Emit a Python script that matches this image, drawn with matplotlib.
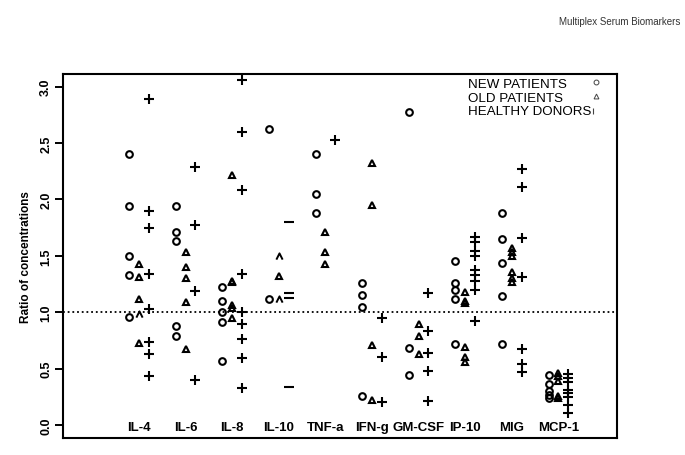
import matplotlib
matplotlib.use("Agg")
import matplotlib.pyplot as plt
from matplotlib.path import Path

# values
cytokines = ['IL-4', 'IL-6', 'IL-8', 'IL-10', 'TNF-a', 'IFN-g', 'GM-CSF', 'IP-10', 'MIG', 'MCP-1']

new_patients = [
    [2.40, 1.94, 1.50, 1.33, 0.954],
    [1.94, 1.715, 1.63, 0.88, 0.79],
    [1.225, 1.10, 1.00, 0.91, 0.57],
    [2.62, 1.12],
    [2.40, 2.05, 1.88],
    [1.26, 1.15, 1.05, 0.26],
    [2.775, 0.68, 0.443],
    [1.455, 1.26, 1.20, 1.115, 0.72],
    [1.88, 1.65, 1.44, 1.145, 0.72],
    [0.445, 0.365, 0.30, 0.27, 0.24],
]

old_patients = [
    [1.43, 1.31, 1.12, 0.73],
    [1.53, 1.40, 1.30, 1.09, 0.67],
    [2.22, 1.28, 1.27, 1.06, 1.04, 0.945],
    [1.32],
    [1.71, 1.53, 1.43],
    [2.32, 1.95, 0.71, 0.224],
    [0.895, 0.785, 0.63],
    [1.18, 1.10, 1.08, 0.695, 0.60, 0.555],
    [1.57, 1.53, 1.50, 1.36, 1.30, 1.27],
    [0.46, 0.43, 0.39, 0.255, 0.235],
]

# old patient points that only show as a bare "^"
old_open = {0: [0.98], 3: [1.50, 1.12]}

healthy_donors = [
    [2.89, 1.90, 1.75, 1.34, 1.03, 0.74, 0.63, 0.43],
    [2.29, 1.77, 1.19, 0.40],
    [3.06, 2.60, 2.08, 1.34, 1.00, 0.895, 0.76, 0.59, 0.33],
    [1.80, 1.17, 1.13, 0.34],
    [2.53],
    [0.945, 0.60, 0.20],
    [1.17, 0.835, 0.64, 0.475, 0.21],
    [1.67, 1.62, 1.54, 1.50, 1.37, 1.33, 1.28, 1.20, 0.92],
    [2.27, 2.11, 1.66, 1.31, 0.67, 0.54, 0.47],
    [0.45, 0.42, 0.38, 0.31, 0.28, 0.25, 0.18, 0.11],
]

yticks = [0.0, 0.5, 1.0, 1.5, 2.0, 2.5, 3.0]

plt.rcParams['font.family'] = ['Liberation Sans', 'DejaVu Sans']

fig = plt.figure(figsize=(6.85, 4.56), dpi=100)
ax = fig.add_axes([0.092, 0.0373, 0.809, 0.798])

caret = Path([(-1, -1), (0, 1), (1, -1)], [Path.MOVETO, Path.LINETO, Path.LINETO])
off = 0.21

for i, name in enumerate(cytokines):
    k = i + 1
    ax.plot([k - off] * len(new_patients[i]), new_patients[i], 'o', ms=4.8,
            mfc='none', mec='black', mew=1.5)
    ax.plot([k] * len(old_patients[i]), old_patients[i], '^', ms=5.0,
            mfc='none', mec='black', mew=1.5)
    if i in old_open:
        ax.plot([k] * len(old_open[i]), old_open[i], marker=caret, ls='none',
                ms=4.5, mfc='none', mec='black', mew=1.4)
    mk = '_' if name == 'IL-10' else '+'
    ax.plot([k + off] * len(healthy_donors[i]), healthy_donors[i], mk, ms=6.5,
            color='black', mew=1.5)
    ax.text(k, -0.018, name, ha='center', va='center', fontsize=9.5,
            fontweight='bold')

ax.axhline(1.0, color='black', ls=(0, (1, 1.6)), lw=1.3)

ax.set_xlim(-0.631, 11.26)
ax.set_ylim(-0.115, 3.11)
ax.set_xticks([])
ax.set_yticks(yticks)
ax.set_yticklabels(['%.1f' % t for t in yticks], rotation=90, va='center',
                   fontweight='bold', fontsize=9)
ax.tick_params(axis='y', length=5.8, width=1.4, pad=2)
for s in ax.spines.values():
    s.set_linewidth(1.5)

ax.set_ylabel('Ratio of concentrations', fontsize=8.5, fontweight='bold',
              labelpad=6)

# legend drawn as plain text with small symbols
leg = ['NEW PATIENTS', 'OLD PATIENTS', 'HEALTHY DONORS']
leg_y = [0.972, 0.934, 0.898]
for lbl, yy in zip(leg, leg_y):
    ax.text(0.731, yy, lbl, transform=ax.transAxes, ha='left', va='center',
            fontsize=9.6)
ax.plot([0.962], [leg_y[0] + 0.005], 'o', ms=3.5, mfc='none', mec='#444444',
        mew=0.7, transform=ax.transAxes, clip_on=False)
ax.plot([0.962], [leg_y[1] + 0.005], '^', ms=3.5, mfc='none', mec='#444444',
        mew=0.7, transform=ax.transAxes, clip_on=False)
ax.plot([0.957], [leg_y[2]], '|', ms=4.5, color='#444444', mew=0.8,
        transform=ax.transAxes, clip_on=False)

fig.text(0.993, 1 - 22 / 456, 'Multiplex Serum Biomarkers', ha='right',
         va='center', fontsize=7, color='#333333')

fig.savefig('out.png', dpi=100)
